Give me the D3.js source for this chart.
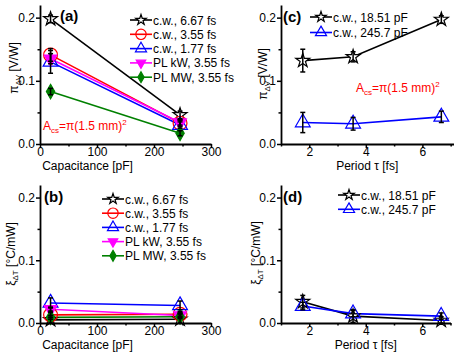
<!DOCTYPE html>
<html>
<head>
<meta charset="utf-8">
<script src="https://cdn.jsdelivr.net/npm/d3@7"></script>
<style>
  body { margin: 0; background: #fff; }
  svg { font-family: Arial, 'Liberation Sans', sans-serif; }
</style>
</head>
<body>
<div id="chart"></div>
<script>
// x values
const capacitance = [18.51, 245.7]
const periods = [1.77, 3.55, 6.67]

// (a) pi_dV vs capacitance
const piCw667 = [0.198, 0.046]
const piCw355 = [0.141, 0.033]
const piCw177 = [0.13, 0.03]
const piPlKw = [0.135, 0.034]
const piPlMw = [0.083, 0.017]
const piErrCw667 = [0.006, 0.006]
const piErrCw355 = [0.01, 0.005]
const piErrCw177 = [0.018, 0.005]
const piErrPlKw = [0.008, 0.004]
const piErrPlMw = [0.005, 0.004]

// (b) xi_dT vs capacitance
const xiCw667 = [0.005, 0.006]
const xiCw355 = [0.013, 0.014]
const xiCw177 = [0.032, 0.028]
const xiPlKw = [0.022, 0.012]
const xiPlMw = [0.009, 0.01]
const xiErrCw667 = [0.02, 0.01]
const xiErrCw355 = [0.004, 0.004]
const xiErrCw177 = [0.008, 0.007]
const xiErrPlKw = [0.003, 0.003]
const xiErrPlMw = [0.003, 0.003]

// (c) pi_dV vs period
const piPer1851 = [0.132, 0.138, 0.197]
const piPer2457 = [0.034, 0.032, 0.043]
const piPerErr1851 = [0.018, 0.008, 0.006]
const piPerErr2457 = [0.016, 0.01, 0.009]

// (d) xi_dT vs period
const xiPer1851 = [0.034, 0.011, 0.004]
const xiPer2457 = [0.027, 0.015, 0.011]
const xiPerErr1851 = [0.01, 0.01, 0.006]
const xiPerErr2457 = [0.006, 0.005, 0.005]

const capTicks = [0, 100, 200, 300]
const capMinor = [50, 150, 250]
const perTicks = [2, 4, 6]
const perMinor = [1, 3, 5, 7]
const yTicks = [0, 0.1, 0.2]
const yMinor = [0.05, 0.15]

const svg = d3
  .select('#chart')
  .append('svg')
  .attr('width', 458)
  .attr('height', 352)

const styles = {
  cw667: { label: 'c.w., 6.67 fs', color: '#000', symbol: d3.symbolStar, size: 60, fill: '#fff' },
  cw355: { label: 'c.w., 3.55 fs', color: '#ff0000', symbol: d3.symbolCircle, size: 150, fill: 'none' },
  cw177: { label: 'c.w., 1.77 fs', color: '#0000ff', symbol: d3.symbolTriangle, size: 95, fill: 'none' },
  plkw: { label: 'PL kW, 3.55 fs', color: '#ff00ff', symbol: d3.symbolTriangle, size: 70, fill: '#ff00ff', flip: true },
  plmw: { label: 'PL MW, 3.55 fs', color: '#008000', symbol: d3.symbolDiamond, size: 60, fill: '#008000' },
  p1851: { label: 'c.w., 18.51 pF', color: '#000', symbol: d3.symbolStar, size: 60, fill: '#fff' },
  p2457: { label: 'c.w., 245.7 pF', color: '#0000ff', symbol: d3.symbolTriangle, size: 95, fill: 'none' }
}

function marker(g, st, scale) {
  const k = scale || 1
  return g
    .append('path')
    .attr('d', d3.symbol().type(st.symbol).size(st.size * k * k)())
    .attr('transform', st.flip ? 'rotate(180)' : null)
    .attr('fill', st.fill)
    .attr('stroke', st.color)
    .attr('stroke-width', 1.2)
}

function drawPanel(p) {
  const g = svg.append('g')
  const x = p.x
  const y = p.y
  const [x0] = x.range()
  const [y0] = y.range()

  // series lines
  p.series.forEach(s => {
    const st = styles[s.key]
    const pts = s.values.map((v, i) => ({ x: p.xs[i], y: v }))
    g.append('path')
      .datum(pts)
      .attr('d', d3.line().x(d => x(d.x)).y(d => y(d.y)))
      .attr('fill', 'none')
      .attr('stroke', st.color)
      .attr('stroke-width', 1.6)
  })
  // markers
  p.series.forEach(s => {
    const st = styles[s.key]
    s.values.forEach((v, i) => {
      const m = g.append('g').attr('transform', `translate(${x(p.xs[i])},${y(v)})`)
      marker(m, st)
    })
  })
  // error bars on top
  p.series.forEach(s => {
    s.values.forEach((v, i) => {
      const cx = x(p.xs[i])
      const top = y(v + s.err[i])
      const bot = y(Math.max(0, v - s.err[i]))
      g.append('line').attr('x1', cx).attr('x2', cx).attr('y1', top).attr('y2', bot)
        .attr('stroke', '#000').attr('stroke-width', 1.5)
      ;[top, bot].forEach(yy => {
        g.append('line').attr('x1', cx - 2.5).attr('x2', cx + 2.5).attr('y1', yy).attr('y2', yy)
          .attr('stroke', '#000').attr('stroke-width', 1.5)
      })
    })
  })

  // axes
  const xAxis = g.append('g').attr('transform', `translate(0,${y0})`)
    .call(d3.axisBottom(x).tickValues(p.xTicks).tickSize(4).tickSizeOuter(0).tickFormat(d3.format('d')))
  g.append('g').attr('transform', `translate(0,${y0})`)
    .call(d3.axisBottom(x).tickValues(p.minor).tickSize(2.5).tickSizeOuter(0).tickFormat(''))
    .select('.domain').remove()
  const yAxis = g.append('g').attr('transform', `translate(${x0},0)`)
    .call(d3.axisLeft(y).tickValues(yTicks).tickSize(4).tickSizeOuter(0).tickFormat(d3.format('.1f')))
  g.append('g').attr('transform', `translate(${x0},0)`)
    .call(d3.axisLeft(y).tickValues(yMinor).tickSize(2.5).tickFormat(''))
    .select('.domain').remove()

  g.selectAll('.domain').attr('stroke-width', 1.8)
  g.selectAll('.tick line').attr('stroke-width', 1.5)
  g.selectAll('.tick text').attr('font-size', 12).attr('fill', '#000')
    .attr('font-family', 'Arial, Liberation Sans, sans-serif')
  xAxis.selectAll('.tick text').attr('y', 3).attr('dy', '0.72em')
  yAxis.selectAll('.tick text').attr('x', -5)

  // axis titles
  g.append('text')
    .attr('x', (x.range()[0] + x.range()[1]) / 2 + p.xTitleShift)
    .attr('y', y0 + p.xTitleDy)
    .attr('text-anchor', 'middle')
    .attr('font-size', 12)
    .text(p.xTitle)

  const yt = g.append('text')
    .attr('transform', `translate(${p.yTitleX},${p.yTitleY}) rotate(-90)`)
    .attr('text-anchor', 'middle')
    .attr('font-size', 12)
  yt.append('tspan').text(p.yTitle[0])
  yt.append('tspan').attr('font-size', 8).attr('dy', 3).text(p.yTitle[1])
  yt.append('tspan').attr('dy', -3).text(' ' + p.yTitle[2])

  // panel label
  g.append('text')
    .attr('x', p.labelPos[0])
    .attr('y', p.labelPos[1])
    .attr('font-size', 15)
    .attr('font-weight', 'bold')
    .text(p.label)

  // legend
  p.series.forEach((s, i) => {
    const st = styles[s.key]
    const ly = p.legend[1] + i * p.legendStep
    const lx = p.legend[0]
    g.append('line').attr('x1', lx).attr('x2', lx + 22).attr('y1', ly).attr('y2', ly)
      .attr('stroke', st.color).attr('stroke-width', 1.6)
    const m = g.append('g').attr('transform', `translate(${lx + 11},${ly})`)
    marker(m, st, 0.75)
    g.append('text').attr('x', lx + 23).attr('y', ly + 4.5).attr('font-size', 12).text(st.label)
  })

  // area annotation
  if (p.note) {
    const t = g.append('text').attr('x', p.note[0]).attr('y', p.note[1])
      .attr('font-size', 12).attr('fill', '#ff0000')
    t.append('tspan').text('A')
    t.append('tspan').attr('font-size', 8).attr('dy', 3).text('cs')
    t.append('tspan').attr('dy', -3).text('=π(1.5 mm)')
    t.append('tspan').attr('font-size', 8).attr('dy', -5).text('2')
  }
}

const capSeriesA = [
  { key: 'cw667', values: piCw667, err: piErrCw667 },
  { key: 'cw355', values: piCw355, err: piErrCw355 },
  { key: 'cw177', values: piCw177, err: piErrCw177 },
  { key: 'plkw', values: piPlKw, err: piErrPlKw },
  { key: 'plmw', values: piPlMw, err: piErrPlMw }
]
const capSeriesB = [
  { key: 'cw667', values: xiCw667, err: xiErrCw667 },
  { key: 'cw355', values: xiCw355, err: xiErrCw355 },
  { key: 'cw177', values: xiCw177, err: xiErrCw177 },
  { key: 'plkw', values: xiPlKw, err: xiErrPlKw },
  { key: 'plmw', values: xiPlMw, err: xiErrPlMw }
]

drawPanel({
  x: d3.scaleLinear().domain([0, 300]).range([40, 211]),
  y: d3.scaleLinear().domain([0, 0.22]).range([144, 5]),
  xs: capacitance, xTicks: capTicks, minor: capMinor,
  series: capSeriesA,
  xTitle: 'Capacitance [pF]', xTitleShift: -38, xTitleDy: 26,
  yTitle: ['π', 'ΔV', '[V/W]'], yTitleX: 18, yTitleY: 68,
  label: '(a)', labelPos: [60, 21],
  legend: [130, 20], legendStep: 14.3,
  note: [43, 130]
})

drawPanel({
  x: d3.scaleLinear().domain([0, 300]).range([40, 211]),
  y: d3.scaleLinear().domain([0, 0.22]).range([323, 185]),
  xs: capacitance, xTicks: capTicks, minor: capMinor,
  series: capSeriesB,
  xTitle: 'Capacitance [pF]', xTitleShift: -38, xTitleDy: 26,
  yTitle: ['ξ', 'ΔT', '[°C/mW]'], yTitleX: 15, yTitleY: 254,
  label: '(b)', labelPos: [44, 202],
  legend: [102, 199], legendStep: 14.2
})

drawPanel({
  x: d3.scaleLinear().domain([1, 7.1]).range([281, 453.5]),
  y: d3.scaleLinear().domain([0, 0.22]).range([144, 5]),
  xs: periods, xTicks: perTicks, minor: perMinor,
  series: [
    { key: 'p1851', values: piPer1851, err: piPerErr1851 },
    { key: 'p2457', values: piPer2457, err: piPerErr2457 }
  ],
  xTitle: 'Period τ [fs]', xTitleShift: 0, xTitleDy: 26,
  yTitle: ['π', 'ΔV', '[V/W]'], yTitleX: 267, yTitleY: 74,
  label: '(c)', labelPos: [283, 22],
  legend: [310, 17], legendStep: 15.5,
  note: [356, 92]
})

drawPanel({
  x: d3.scaleLinear().domain([1, 7]).range([281, 450.5]),
  y: d3.scaleLinear().domain([0, 0.22]).range([323, 185]),
  xs: periods, xTicks: perTicks, minor: perMinor,
  series: [
    { key: 'p1851', values: xiPer1851, err: xiPerErr1851 },
    { key: 'p2457', values: xiPer2457, err: xiPerErr2457 }
  ],
  xTitle: 'Period τ [fs]', xTitleShift: 0, xTitleDy: 26,
  yTitle: ['ξ', 'ΔT', '[°C/mW]'], yTitleX: 260, yTitleY: 253,
  label: '(d)', labelPos: [283, 202],
  legend: [338, 195], legendStep: 14.3
})
</script>
</body>
</html>
